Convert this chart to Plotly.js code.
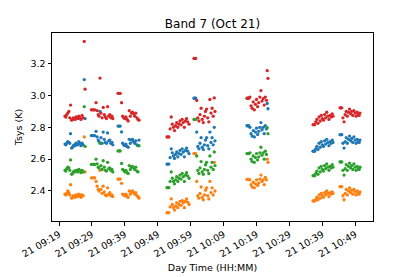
<!DOCTYPE html>
<html>
<head>
<meta charset="utf-8">
<script src="https://cdn.plot.ly/plotly-3.0.1.min.js"></script>
<style>html,body{margin:0;padding:0;background:#fff;}#chart{width:415px;height:277px;}</style>
</head>
<body>
<div id="chart"></div>
<script>
// Observation date
const day = "2019-10-21";
// Sample times (HH:MM:SS), eight scans
const times = [
  "09:20:50","09:21:05","09:21:20","09:21:40","09:22:00","09:22:15","09:22:30","09:22:50","09:23:05","09:23:20","09:23:40","09:23:55","09:24:10","09:24:30","09:24:45","09:25:00","09:25:20","09:25:40","09:26:00","09:26:20","09:26:40","09:26:55",
  "09:28:50","09:29:10","09:29:30","09:29:50","09:30:15","09:30:35","09:30:55","09:31:10","09:31:27","09:31:45","09:32:05","09:32:25","09:32:45","09:33:05","09:33:25","09:33:45","09:34:05","09:34:25","09:34:45","09:35:05","09:35:20",
  "09:36:55","09:37:15","09:37:35","09:38:00","09:38:20","09:38:40","09:39:00","09:39:20","09:39:40","09:40:00","09:40:20","09:40:40","09:41:00","09:41:20","09:41:40","09:42:00","09:42:20","09:42:40","09:43:00","09:43:18",
  "09:51:48","09:52:05","09:52:22","09:52:45","09:53:05","09:53:25","09:53:45","09:54:05","09:54:25","09:54:45","09:55:05","09:55:25","09:55:45","09:56:05","09:56:25","09:56:45","09:57:05","09:57:25","09:57:45","09:58:05","09:58:30",
  "10:00:00","10:00:15","10:00:30","10:00:50","10:01:10","10:01:30","10:01:50","10:02:10","10:02:30","10:02:50","10:03:10","10:03:30","10:03:50","10:04:10","10:04:30","10:04:50","10:05:10","10:05:30","10:05:50","10:06:10","10:06:23",
  "10:16:06","10:16:22","10:16:38","10:17:00","10:17:20","10:17:40","10:18:00","10:18:20","10:18:40","10:19:00","10:19:20","10:19:40","10:20:00","10:20:20","10:20:40","10:21:00","10:21:20","10:21:40","10:22:00","10:22:15","10:22:29",
  "10:36:10","10:36:25","10:36:40","10:37:00","10:37:20","10:37:40","10:38:00","10:38:20","10:38:40","10:39:00","10:39:20","10:39:40","10:40:00","10:40:20","10:40:40","10:41:00","10:41:20","10:41:40","10:42:00","10:42:14",
  "10:44:22","10:44:38","10:44:54","10:45:15","10:45:35","10:45:55","10:46:15","10:46:35","10:46:55","10:47:15","10:47:35","10:47:55","10:48:15","10:48:35","10:48:55","10:49:15","10:49:35","10:49:55","10:50:10","10:50:26"
];
const blue = [
  2.695,2.69,2.70,2.71,2.705,2.70,2.76,2.67,2.675,2.685,2.69,2.685,2.70,2.695,2.69,2.71,2.70,2.685,2.70,2.69,3.10,2.855,
  2.748,2.748,2.748,2.748,2.775,2.74,2.72,2.71,2.90,2.735,2.70,2.77,2.725,2.705,2.70,2.765,2.715,2.72,2.70,2.705,2.69,
  2.808,2.808,2.808,2.771,2.70,2.69,2.685,2.695,2.68,2.675,2.725,2.70,2.72,2.725,2.71,2.70,2.715,2.69,2.685,2.72,
  2.569,2.569,2.569,2.61,2.665,2.64,2.62,2.605,2.63,2.645,2.615,2.635,2.655,2.63,2.665,2.645,2.615,2.655,2.67,2.65,2.635,
  2.983,2.983,2.983,2.77,2.68,2.665,2.70,2.735,2.675,2.66,2.69,2.72,2.735,2.685,2.665,2.77,2.705,2.735,2.69,2.80,2.715,
  2.81,2.81,2.81,2.80,2.76,2.745,2.78,2.74,2.77,2.795,2.755,2.775,2.80,2.83,2.785,2.80,2.76,2.81,2.79,2.95,2.917,
  2.65,2.65,2.65,2.665,2.68,2.66,2.70,2.675,2.71,2.69,2.68,2.715,2.695,2.725,2.705,2.685,2.71,2.70,2.72,2.705,
  2.754,2.754,2.754,2.70,2.67,2.71,2.735,2.70,2.725,2.745,2.715,2.73,2.705,2.74,2.72,2.70,2.725,2.71,2.705,2.72
];
const orange = [
  2.38,2.375,2.385,2.40,2.39,2.375,2.44,2.355,2.36,2.37,2.365,2.36,2.375,2.37,2.365,2.38,2.375,2.36,2.375,2.37,2.74,2.52,
  2.483,2.483,2.483,2.483,2.46,2.43,2.41,2.40,2.53,2.41,2.385,2.43,2.395,2.375,2.37,2.42,2.38,2.39,2.37,2.375,2.365,
  2.475,2.475,2.475,2.448,2.38,2.375,2.37,2.38,2.365,2.36,2.40,2.38,2.395,2.40,2.39,2.38,2.39,2.37,2.365,2.355,
  2.264,2.264,2.264,2.30,2.35,2.315,2.295,2.28,2.305,2.325,2.295,2.315,2.335,2.31,2.34,2.325,2.295,2.335,2.35,2.33,2.315,
  2.635,2.635,2.635,2.46,2.37,2.355,2.385,2.425,2.36,2.345,2.375,2.405,2.42,2.37,2.35,2.46,2.39,2.42,2.375,2.58,2.40,
  2.473,2.473,2.473,2.47,2.44,2.425,2.455,2.42,2.445,2.47,2.435,2.45,2.475,2.50,2.46,2.47,2.44,2.485,2.47,2.60,2.58,
  2.3375,2.3375,2.3375,2.345,2.36,2.345,2.375,2.355,2.385,2.37,2.36,2.39,2.375,2.40,2.385,2.365,2.39,2.38,2.395,2.385,
  2.427,2.427,2.427,2.37,2.345,2.385,2.41,2.375,2.40,2.42,2.39,2.405,2.38,2.41,2.395,2.375,2.40,2.385,2.38,2.395
];
const green = [
  2.53,2.525,2.54,2.55,2.545,2.53,2.595,2.505,2.51,2.52,2.525,2.52,2.53,2.525,2.52,2.535,2.53,2.515,2.53,2.52,2.93,2.68,
  2.567,2.567,2.567,2.567,2.60,2.57,2.55,2.545,2.70,2.56,2.535,2.59,2.55,2.53,2.525,2.58,2.54,2.545,2.53,2.535,2.52,
  2.652,2.652,2.652,2.573,2.535,2.53,2.52,2.53,2.515,2.51,2.56,2.535,2.55,2.555,2.545,2.535,2.55,2.525,2.52,2.685,
  2.421,2.421,2.421,2.46,2.52,2.48,2.46,2.445,2.47,2.49,2.46,2.48,2.50,2.475,2.51,2.49,2.46,2.50,2.515,2.495,2.48,
  2.85,2.85,2.85,2.62,2.53,2.51,2.545,2.585,2.52,2.505,2.535,2.565,2.58,2.53,2.51,2.62,2.55,2.58,2.535,2.645,2.56,
  2.635,2.635,2.635,2.64,2.60,2.585,2.62,2.58,2.61,2.635,2.595,2.615,2.64,2.675,2.625,2.64,2.60,2.65,2.63,2.798,2.76,
  2.496,2.496,2.496,2.51,2.525,2.505,2.545,2.52,2.555,2.535,2.525,2.56,2.54,2.57,2.55,2.53,2.555,2.545,2.565,2.55,
  2.583,2.583,2.583,2.53,2.50,2.54,2.565,2.53,2.555,2.575,2.545,2.56,2.535,2.57,2.55,2.53,2.555,2.54,2.535,2.55
];
const red = [
  2.87,2.865,2.88,2.89,2.90,2.86,2.94,2.845,2.85,2.86,2.855,2.85,2.865,2.86,2.855,2.87,2.86,2.85,2.875,2.86,3.34,3.04,
  2.91,2.91,2.91,2.91,2.955,2.905,2.88,2.87,3.11,2.89,2.86,2.925,2.88,2.865,2.855,2.93,2.87,2.88,2.86,2.87,2.855,
  3.014,3.014,3.014,2.955,2.87,2.86,2.855,2.865,2.85,2.84,2.905,2.87,2.89,2.895,2.885,2.87,2.89,2.86,2.85,2.845,
  2.74,2.74,2.74,2.79,2.865,2.82,2.80,2.78,2.81,2.83,2.80,2.82,2.84,2.815,2.85,2.83,2.80,2.84,2.855,2.835,2.82,
  3.233,3.233,3.233,2.969,2.86,2.84,2.88,2.92,2.85,2.83,2.87,2.90,2.915,2.86,2.835,2.975,2.89,2.92,2.87,2.985,2.90,
  2.983,2.983,2.983,2.99,2.935,2.92,2.96,2.91,2.945,2.975,2.93,2.955,2.99,3.031,2.965,2.98,2.94,2.99,2.97,3.156,3.108,
  2.817,2.817,2.817,2.835,2.85,2.825,2.865,2.84,2.875,2.855,2.845,2.88,2.86,2.895,2.87,2.85,2.875,2.865,2.885,2.87,
  2.923,2.923,2.923,2.86,2.835,2.88,2.90,2.87,2.895,2.915,2.885,2.90,2.875,2.905,2.89,2.87,2.895,2.88,2.875,2.89
];
const seriesNames = ["blue", "orange", "green", "red"];
const seriesColors = ["#1f77b4", "#ff7f0e", "#2ca02c", "#d62728"];
const seriesData = [blue, orange, green, red];
const titleText = "Band 7 (Oct 21)";
const xTitle = "Day Time (HH:MM)";
const yTitle = "Tsys (K)";

const x = times.map(t => day + " " + t);
const traces = seriesData.map((vals, i) => ({
  type: "scatter", mode: "markers", x: x, y: vals, name: seriesNames[i],
  marker: {color: seriesColors[i], size: 3.3, line: {width: 0}},
  hoverinfo: "x+y"
}));

const font = "DejaVu Sans, sans-serif";
const layout = {
  width: 415, height: 277,
  margin: {l: 52, r: 42, t: 33, b: 56, pad: 0},
  paper_bgcolor: "#fff", plot_bgcolor: "#fff",
  showlegend: false,
  font: {family: font, size: 9.5, color: "#000"},
  title: {text: titleText, font: {family: font, size: 12, color: "#000"},
          x: 0.5, xref: "paper", y: 1, yref: "paper", yanchor: "bottom", pad: {b: 5}},
  xaxis: {
    type: "date",
    range: [day + " 09:16:52", day + " 10:54:23"],
    tick0: day + " 09:19:00", dtick: 600000, tickformat: "%d %H:%M",
    tickangle: -30,
    showgrid: false, zeroline: false,
    showline: true, mirror: true, linecolor: "#000", linewidth: 1,
    ticks: "outside", ticklen: 3.5, tickwidth: 1, tickcolor: "#000",
    tickfont: {family: font, size: 9.5, color: "#000"},
    title: {text: xTitle, font: {family: font, size: 9.5, color: "#000"}, standoff: 6}
  },
  yaxis: {
    range: [2.2114, 3.393],
    tick0: 2.4, dtick: 0.2, tickformat: ".1f",
    showgrid: false, zeroline: false,
    showline: true, mirror: true, linecolor: "#000", linewidth: 1,
    ticks: "outside", ticklen: 3.5, tickwidth: 1, tickcolor: "#000",
    tickfont: {family: font, size: 9.5, color: "#000"},
    title: {text: yTitle, font: {family: font, size: 9.5, color: "#000"}, standoff: 6}
  }
};
Plotly.newPlot("chart", traces, layout, {displayModeBar: false, staticPlot: true});
</script>
</body>
</html>
